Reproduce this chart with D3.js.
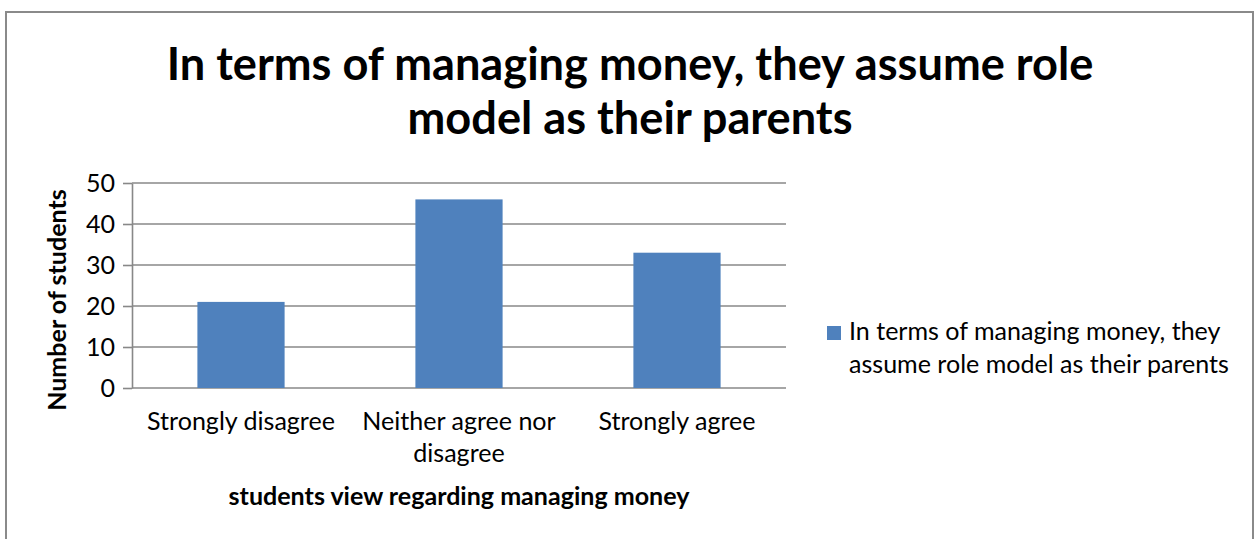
<!DOCTYPE html>
<html>
<head>
<meta charset="utf-8">
<script src="https://cdn.jsdelivr.net/npm/d3@7"></script>
<style>
  html, body { margin: 0; padding: 0; background: #fff; }
  svg { display: block; font-family: Lato, "Open Sans", sans-serif; }
</style>
</head>
<body>
<svg id="chart" width="1258" height="539"></svg>
<script>
// Survey answers and counts
const categories = ["Strongly disagree", "Neither agree nor disagree", "Strongly agree"];
const categoryLabelLines = [["Strongly disagree"], ["Neither agree nor", "disagree"], ["Strongly agree"]];
const studentCounts = [21, 46, 33];
const yTickValues = [0, 10, 20, 30, 40, 50];
const titleLines = ["In terms of managing money, they assume role", "model as their parents"];
const legendLines = ["In terms of managing money, they", "assume role model as their parents"];
const yAxisTitle = "Number of students";
const xAxisTitle = "students view regarding managing money";

const svg = d3.select("#chart");
const W = 1258, H = 539;
const plot = { left: 132, right: 786, top: 183, bottom: 388 };
const barColor = "#4F81BD";
const gridColor = "#888888";

// Scale text so a line spans a given width
function fitWidth(sel, target) {
  const w = sel.node().getComputedTextLength();
  const fs = parseFloat(sel.attr("font-size"));
  const size = fs * target / w;
  sel.attr("font-size", size);
  return size;
}

// Chart frame
svg.append("rect")
  .attr("x", 6).attr("y", 12)
  .attr("width", 1247).attr("height", 540)
  .attr("fill", "#fff")
  .attr("stroke", "#8a8a8a").attr("stroke-width", 2);

// Title
const t1 = svg.append("text")
  .attr("x", 630).attr("y", 80)
  .attr("text-anchor", "middle")
  .attr("font-weight", "bold").attr("font-size", 40)
  .attr("fill", "#000")
  .text(titleLines[0]);
const titleSize = fitWidth(t1, 927);
svg.append("text")
  .attr("x", 630).attr("y", 134)
  .attr("text-anchor", "middle")
  .attr("font-weight", "bold").attr("font-size", titleSize)
  .attr("fill", "#000")
  .text(titleLines[1]);

const x = d3.scaleBand()
  .domain(categories)
  .range([plot.left, plot.right])
  .paddingInner(0.6)
  .paddingOuter(0.3);

const y = d3.scaleLinear()
  .domain([0, 50])
  .range([plot.bottom, plot.top]);

// Legend text size drives the other regular labels
const lg1 = svg.append("text")
  .attr("x", 849).attr("y", 340)
  .attr("font-size", 22).attr("fill", "#000")
  .text(legendLines[0]);
const lg2 = svg.append("text")
  .attr("x", 849).attr("y", 373)
  .attr("font-size", 22).attr("fill", "#000")
  .text(legendLines[1]);
const labelSize = fitWidth(lg2, 380);
lg1.attr("font-size", labelSize);
svg.append("rect")
  .attr("x", 827).attr("y", 326)
  .attr("width", 14).attr("height", 14)
  .attr("fill", barColor);

// Horizontal gridlines
svg.append("g")
  .selectAll("line")
  .data(yTickValues)
  .join("line")
  .attr("x1", plot.left).attr("x2", plot.right)
  .attr("y1", d => y(d)).attr("y2", d => y(d))
  .attr("stroke", gridColor).attr("stroke-width", 1.6);

// Value axis
const yAxis = svg.append("g")
  .attr("transform", `translate(${plot.left},0)`)
  .call(d3.axisLeft(y).tickValues(yTickValues).tickSize(9).tickSizeOuter(0).tickPadding(8));
yAxis.select(".domain").attr("stroke", gridColor).attr("stroke-width", 1.6);
yAxis.selectAll(".tick line").attr("stroke", gridColor).attr("stroke-width", 1.6);
yAxis.selectAll(".tick text")
  .attr("font-size", labelSize)
  .attr("font-family", "Lato, 'Open Sans', sans-serif")
  .attr("fill", "#000");

// Bars
svg.append("g")
  .selectAll("rect")
  .data(categories.map((c, i) => ({ c, v: studentCounts[i] })))
  .join("rect")
  .attr("x", d => x(d.c))
  .attr("width", x.bandwidth())
  .attr("y", d => y(d.v))
  .attr("height", d => y(0) - y(d.v))
  .attr("fill", barColor);

// Category labels
const catG = svg.append("g");
categories.forEach((c, i) => {
  const cx = x(c) + x.bandwidth() / 2;
  categoryLabelLines[i].forEach((line, j) => {
    catG.append("text")
      .attr("x", cx).attr("y", 430 + j * 32)
      .attr("text-anchor", "middle")
      .attr("font-size", labelSize).attr("fill", "#000")
      .text(line);
  });
});

// Axis titles
const xt = svg.append("text")
  .attr("x", (plot.left + plot.right) / 2).attr("y", 505)
  .attr("text-anchor", "middle")
  .attr("font-weight", "bold").attr("font-size", 20)
  .attr("fill", "#000")
  .text(xAxisTitle);
const axisTitleSize = fitWidth(xt, 461);

svg.append("text")
  .attr("transform", "translate(66,300) rotate(-90)")
  .attr("text-anchor", "middle")
  .attr("font-weight", "bold").attr("font-size", axisTitleSize)
  .attr("fill", "#000")
  .text(yAxisTitle);
</script>
</body>
</html>
